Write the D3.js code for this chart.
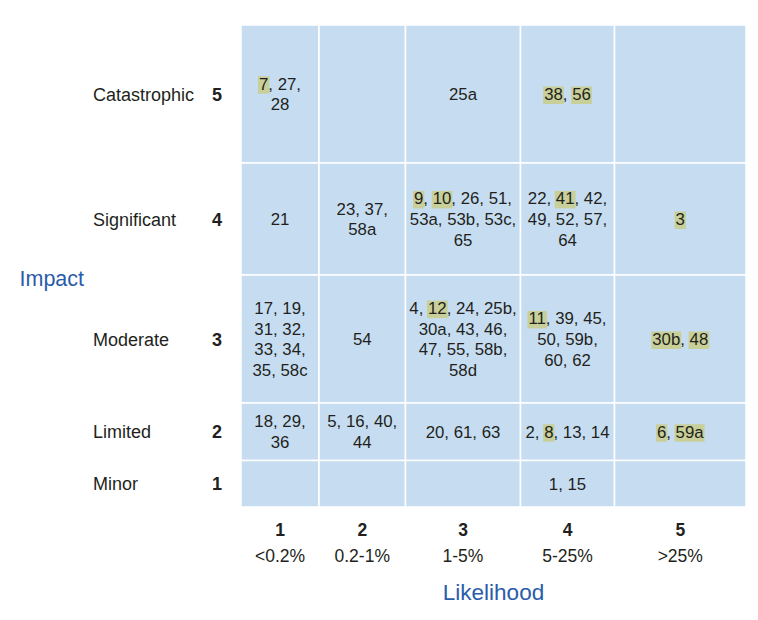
<!DOCTYPE html>
<html>
<head>
<meta charset="utf-8">
<script src="https://cdn.jsdelivr.net/npm/d3@7"></script>
<style>
  body { margin: 0; background: #fff; }
  svg { font-family: Helvetica, Arial, "Liberation Sans", sans-serif; }
</style>
</head>
<body>
<div id="container"></div>
<script>
// likelihood (x) categories
let likelihoodLevels = [1, 2, 3, 4, 5];
let likelihoodRanges = ["<0.2%", "0.2-1%", "1-5%", "5-25%", ">25%"];

// impact (y) categories, top to bottom
let impactLevels = [5, 4, 3, 2, 1];
let impactNames = ["Catastrophic", "Significant", "Moderate", "Limited", "Minor"];

// risk ids in each cell: [likelihood, impact, text]
// "|" = line break, "*" = highlighted risk
let riskCells = [
  [1, 5, "*7, 27,|28"],
  [3, 5, "25a"],
  [4, 5, "*38, *56"],
  [1, 4, "21"],
  [2, 4, "23, 37,|58a"],
  [3, 4, "*9, *10, 26, 51,|53a, 53b, 53c,|65"],
  [4, 4, "22, *41, 42,|49, 52, 57,|64"],
  [5, 4, "*3"],
  [1, 3, "17, 19,|31, 32,|33, 34,|35, 58c"],
  [2, 3, "54"],
  [3, 3, "4, *12, 24, 25b,|30a, 43, 46,|47, 55, 58b,|58d"],
  [4, 3, "*11, 39, 45,|50, 59b,|60, 62"],
  [5, 3, "*30b, *48"],
  [1, 2, "18, 29,|36"],
  [2, 2, "5, 16, 40,|44"],
  [3, 2, "20, 61, 63"],
  [4, 2, "2, *8, 13, 14"],
  [5, 2, "*6, *59a"],
  [4, 1, "1, 15"]
];

let w = 758;
let h = 620;
let cellBlue = "#c6ddf1";
let markColor = "#c8cf98";
let ink = "#231f20";
let titleBlue = "#2a5caa";

let viz = d3.select("#container")
  .append("svg")
    .attr("width", w)
    .attr("height", h);

// piecewise scales: cell edges sit at level +/- 0.5
let xScale = d3.scaleLinear()
  .domain([0.5, 1.5, 2.5, 3.5, 4.5, 5.5])
  .range([241, 319, 405.5, 520.5, 614.5, 746]);
let yScale = d3.scaleLinear()
  .domain([5.5, 4.5, 3.5, 2.5, 1.5, 0.5])
  .range([25, 163, 275, 403, 460.5, 507]);

// background grid, every combination
let grid = [];
likelihoodLevels.forEach(function(l){
  impactLevels.forEach(function(i){ grid.push({l: l, i: i}); });
});

viz.append("g").selectAll("rect").data(grid).enter()
  .append("rect")
    .attr("x", function(d){ return xScale(d.l - 0.5); })
    .attr("y", function(d){ return yScale(d.i + 0.5); })
    .attr("width", function(d){ return xScale(d.l + 0.5) - xScale(d.l - 0.5); })
    .attr("height", function(d){ return yScale(d.i - 0.5) - yScale(d.i + 0.5); })
    .attr("fill", cellBlue)
    .attr("stroke", "#fff")
    .attr("stroke-width", 1.5);

// cell contents
let markGroup = viz.append("g");
let textGroup = viz.append("g");
let lineHeight = 20.6;

riskCells.forEach(function(c){
  let cx = xScale(c[0]);
  let cy = yScale(c[1]);
  let lines = c[2].split("|");
  lines.forEach(function(line, k){
    let tokens = line.match(/\*?[0-9a-z]+|,\s*/g);
    let str = "";
    let marks = [];
    tokens.forEach(function(t){
      if (t[0] === "*") {
        t = t.slice(1);
        marks.push([str.length, t.length]);
      }
      str += t;
    });
    let baseline = cy + (k - (lines.length - 1) / 2) * lineHeight + 6;
    let txt = textGroup.append("text")
      .attr("y", baseline)
      .attr("font-size", 16.8)
      .attr("fill", ink)
      .style("white-space", "pre")
      .text(str);
    let len = txt.node().getComputedTextLength();
    let x0 = cx - len / 2;
    txt.attr("x", x0);
    marks.forEach(function(m){
      let node = txt.node();
      let start = node.getStartPositionOfChar(m[0]).x;
      let wd = node.getSubStringLength(m[0], m[1]);
      markGroup.append("rect")
        .attr("x", start - 1)
        .attr("y", baseline - 13.5)
        .attr("width", wd + 2)
        .attr("height", 17.5)
        .attr("fill", markColor);
    });
  });
});

// impact labels on the left
let rowLabels = viz.append("g");
rowLabels.selectAll(".name").data(impactLevels).enter()
  .append("text")
    .attr("class", "name")
    .attr("x", 93)
    .attr("y", function(d){ return yScale(d) + 6.5; })
    .attr("font-size", 18)
    .attr("fill", ink)
    .text(function(d, i){ return impactNames[i]; });
rowLabels.selectAll(".num").data(impactLevels).enter()
  .append("text")
    .attr("class", "num")
    .attr("x", 222)
    .attr("y", function(d){ return yScale(d) + 6.5; })
    .attr("text-anchor", "end")
    .attr("font-size", 18)
    .attr("font-weight", "bold")
    .attr("fill", ink)
    .text(function(d){ return d; });

// likelihood labels along the bottom
let colLabels = viz.append("g");
colLabels.selectAll(".num").data(likelihoodLevels).enter()
  .append("text")
    .attr("class", "num")
    .attr("x", function(d){ return xScale(d); })
    .attr("y", 535.5)
    .attr("text-anchor", "middle")
    .attr("font-size", 17.5)
    .attr("font-weight", "bold")
    .attr("fill", ink)
    .text(function(d){ return d; });
colLabels.selectAll(".range").data(likelihoodLevels).enter()
  .append("text")
    .attr("class", "range")
    .attr("x", function(d){ return xScale(d); })
    .attr("y", 562)
    .attr("text-anchor", "middle")
    .attr("font-size", 17.5)
    .attr("fill", ink)
    .text(function(d, i){ return likelihoodRanges[i]; });

// axis titles
viz.append("text")
  .attr("x", 19.5)
  .attr("y", 285.5)
  .attr("font-size", 21.5)
  .attr("fill", titleBlue)
  .text("Impact");
viz.append("text")
  .attr("x", (xScale(0.5) + xScale(5.5)) / 2)
  .attr("y", 600)
  .attr("text-anchor", "middle")
  .attr("font-size", 22.5)
  .attr("fill", titleBlue)
  .text("Likelihood");
</script>
</body>
</html>
